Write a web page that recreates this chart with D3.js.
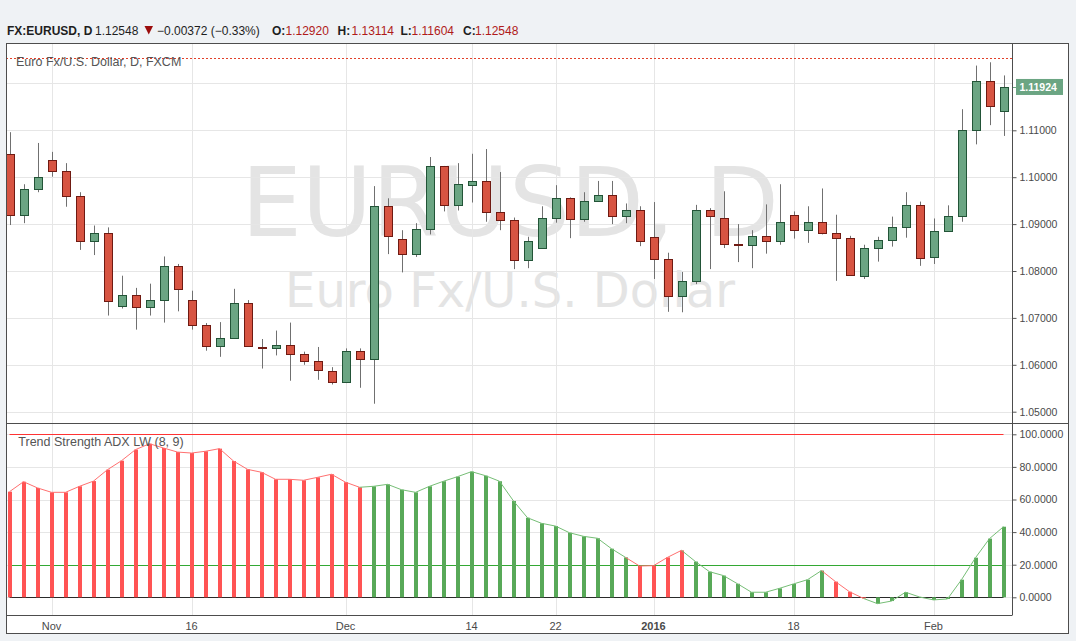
<!DOCTYPE html>
<html><head><meta charset="utf-8">
<script src="https://cdn.jsdelivr.net/npm/d3@7/dist/d3.min.js"></script>
<style>
html,body{margin:0;padding:0;background:#eff2f5;}
svg{display:block;}
text{font-family:"Liberation Sans",Arial,sans-serif;}
</style></head><body>
<svg id="c" width="1076" height="641"></svg>
<script>
// ---------- DATA ----------
const dates = ["2015-10-28","2015-10-29","2015-10-30","2015-11-02","2015-11-03","2015-11-04","2015-11-05","2015-11-06","2015-11-09","2015-11-10",
"2015-11-11","2015-11-12","2015-11-13","2015-11-16","2015-11-17","2015-11-18","2015-11-19","2015-11-20","2015-11-23","2015-11-24",
"2015-11-25","2015-11-26","2015-11-27","2015-11-30","2015-12-01","2015-12-02","2015-12-03","2015-12-04","2015-12-07","2015-12-08",
"2015-12-09","2015-12-10","2015-12-11","2015-12-14","2015-12-15","2015-12-16","2015-12-17","2015-12-18","2015-12-21","2015-12-22",
"2015-12-23","2015-12-24","2015-12-28","2015-12-29","2015-12-30","2015-12-31","2016-01-04","2016-01-05","2016-01-06","2016-01-07",
"2016-01-08","2016-01-11","2016-01-12","2016-01-13","2016-01-14","2016-01-15","2016-01-18","2016-01-19","2016-01-20","2016-01-21",
"2016-01-22","2016-01-25","2016-01-26","2016-01-27","2016-01-28","2016-01-29","2016-02-01","2016-02-02","2016-02-03","2016-02-04",
"2016-02-05","2016-02-08"];
const open  = [1.1049,1.0920,1.0974,1.1036,1.1013,1.0959,1.0863,1.0882,1.0725,1.0749,
1.0723,1.0738,1.0811,1.0738,1.0685,1.0640,1.0657,1.0732,1.0637,1.0635,
1.0642,1.0623,1.0608,1.0586,1.0563,1.0629,1.0612,1.0938,1.0869,1.0837,
1.0890,1.1023,1.0940,1.0983,1.0991,1.0925,1.0908,1.0824,1.0850,1.0914,
1.0955,1.0910,1.0950,1.0963,1.0918,1.0931,1.0873,1.0826,1.0747,1.0779,
1.0929,1.0914,1.0858,1.0856,1.0875,1.0863,1.0920,1.0888,1.0905,1.0882,
1.0871,1.0790,1.0848,1.0867,1.0893,1.0940,1.0830,1.0886,1.0918,1.1100,
1.1205,1.1141];
const high  = [1.1096,1.0985,1.1073,1.1054,1.1030,1.0968,1.0897,1.0893,1.0790,1.0764,
1.0773,1.0831,1.0815,1.0758,1.0689,1.0691,1.0762,1.0738,1.0655,1.0673,
1.0690,1.0628,1.0638,1.0595,1.0635,1.0635,1.0981,1.0955,1.0887,1.0902,
1.1043,1.1024,1.1030,1.1050,1.1060,1.1011,1.0914,1.0873,1.0938,1.0983,
1.0957,1.0968,1.0992,1.0992,1.0944,1.0938,1.0947,1.0839,1.0798,1.0941,
1.0934,1.0970,1.0900,1.0887,1.0942,1.0985,1.0927,1.0938,1.0976,1.0920,
1.0875,1.0856,1.0873,1.0916,1.0968,1.0948,1.0912,1.0940,1.1145,1.1238,
1.1245,1.1217];
const low   = [1.0898,1.0902,1.0968,1.1001,1.0937,1.0845,1.0834,1.0705,1.0720,1.0675,
1.0705,1.0690,1.0714,1.0675,1.0630,1.0617,1.0655,1.0640,1.0592,1.0620,
1.0566,1.0600,1.0568,1.0558,1.0561,1.0551,1.0517,1.0836,1.0797,1.0830,
1.0878,1.0927,1.0929,1.0946,1.0905,1.0887,1.0804,1.0806,1.0847,1.0903,
1.0870,1.0905,1.0950,1.0900,1.0902,1.0853,1.0783,1.0713,1.0712,1.0772,
1.0804,1.0849,1.0819,1.0806,1.0837,1.0856,1.0869,1.0860,1.0878,1.0779,
1.0790,1.0783,1.0820,1.0852,1.0871,1.0811,1.0815,1.0884,1.0905,1.1070,
1.1111,1.1088];
const close = [1.0920,1.0974,1.1000,1.1013,1.0959,1.0863,1.0882,1.0735,1.0749,1.0723,
1.0738,1.0811,1.0762,1.0685,1.0640,1.0657,1.0732,1.0641,1.0636,1.0642,
1.0623,1.0608,1.0588,1.0563,1.0629,1.0612,1.0938,1.0875,1.0837,1.0890,
1.1023,1.0940,1.0985,1.0991,1.0925,1.0908,1.0824,1.0865,1.0914,1.0955,
1.0910,1.0950,1.0963,1.0918,1.0931,1.0863,1.0826,1.0747,1.0779,1.0929,
1.0918,1.0858,1.0857,1.0875,1.0863,1.0905,1.0888,1.0905,1.0882,1.0871,
1.0792,1.0848,1.0867,1.0893,1.0940,1.0828,1.0886,1.0918,1.1101,1.1205,
1.1152,1.1192];
const adx = [64.8,70.9,67.1,64.4,64.4,68.1,71.3,78.3,83.8,90.6,
94.2,91.6,89.1,88.5,89.6,91.2,83.6,78.5,76.7,72.4,
72.4,71.8,73.6,75.5,70.6,67.5,68.1,69.3,66.0,64.4,
68.1,71.2,74.0,77.1,74.6,71.2,59.1,48.8,45.4,43.7,
39.6,37.4,36.2,29.8,24.5,19.2,19.4,24.5,28.8,21.9,
15.7,13.3,8.3,3.1,3.1,5.5,8.2,10.8,16.4,9.6,
3.4,-0.7,-3.9,-2.3,3.1,0.2,-1.6,-1.0,10.8,24.3,
36.0,43.3];
const adxState = ["dn","dn","dn","dn","dn","dn","dn","dn","dn","dn",
"dn","dn","dn","dn","dn","dn","dn","dn","dn","dn",
"dn","dn","dn","dn","dn","dn","up","up","up","up",
"up","up","up","up","up","up","up","up","up","up",
"up","up","up","up","up","dn","dn","dn","dn","up",
"up","up","up","up","up","up","up","up","up","dn",
"dn","dn","up","up","up","up","up","up","up","up",
"up","up"];
const priceTicks = [1.05,1.06,1.07,1.08,1.09,1.10,1.11,1.12];
const adxTicks = [0,20,40,60,80,100];
const adxUpperLevel = 100;
const adxLowerLevel = 20;
const timeTickDates = ["2015-11-02","2015-11-16","2015-12-01","2015-12-14","2015-12-22","2016-01-04","2016-01-18","2016-02-01"];
const timeTickLabels = ["Nov","16","Dec","14","22","2016","18","Feb"];
const lastPrice = 1.12548;
const lastBarClose = 1.11924;
const headerParts = [
  {t:"FX:EURUSD, D", x:7, w:"bold", c:"#1e1e1e"},
  {t:"1.12548", x:95, w:"normal", c:"#1e1e1e"},
  {t:"\u22120.00372 (\u22120.33%)", x:157, w:"normal", c:"#1e1e1e"},
  {t:"O:", x:272, w:"bold", c:"#1e1e1e"},
  {t:"1.12920", x:285.5, w:"normal", c:"#b01a1a"},
  {t:"H:", x:337.5, w:"bold", c:"#1e1e1e"},
  {t:"1.13114", x:351.5, w:"normal", c:"#b01a1a"},
  {t:"L:", x:400.5, w:"bold", c:"#1e1e1e"},
  {t:"1.11604", x:411.5, w:"normal", c:"#b01a1a"},
  {t:"C:", x:463, w:"bold", c:"#1e1e1e"},
  {t:"1.12548", x:475, w:"normal", c:"#b01a1a"}
];

// ---------- LAYOUT ----------
const L = 6, R = 1069, AX = 1012.5, TOP = 43, MID = 423, LOWB = 615, BOT = 634;
const svg = d3.select("#c");

const x = d3.scalePoint().domain(dates).range([9.5, 1003.5]);
const y = d3.scaleLinear().domain([1.05, 1.11]).range([411.7, 130.3]);
const ya = d3.scaleLinear().domain([0, 100]).range([597.3, 434.3]);

// chart background
svg.append("rect").attr("x",L).attr("y",TOP).attr("width",R-L).attr("height",BOT-TOP).attr("fill","#fff");

const defs = svg.append("defs");
defs.append("clipPath").attr("id","mainClip").append("rect").attr("x",L).attr("y",TOP).attr("width",AX-L).attr("height",MID-TOP);
defs.append("clipPath").attr("id","lowClip").append("rect").attr("x",L).attr("y",MID).attr("width",AX-L).attr("height",LOWB-MID);

const mainG = svg.append("g").attr("clip-path","url(#mainClip)");
const lowG = svg.append("g").attr("clip-path","url(#lowClip)");

// watermark
mainG.append("text").attr("x",510).attr("y",236).attr("text-anchor","middle")
  .style("font-family","'DejaVu Sans',sans-serif").style("font-size","96px").attr("fill","#e4e4e4").text("EURUSD, D");
mainG.append("text").attr("x",510).attr("y",306.5).attr("text-anchor","middle")
  .style("font-family","'DejaVu Sans',sans-serif").style("font-size","48px").attr("fill","#e4e4e4").text("Euro Fx/U.S. Dollar");

// vertical grid
const gx = d => Math.round(x(d)) + 0.5;
[mainG, lowG].forEach(g => {
  g.selectAll(null).data(timeTickDates).enter().append("line")
    .attr("x1",gx).attr("x2",gx).attr("y1",TOP).attr("y2",LOWB)
    .attr("stroke","#e6e6e6").attr("stroke-width",1);
});
// horizontal grid main
mainG.selectAll(null).data(priceTicks).enter().append("line")
  .attr("x1",L).attr("x2",AX).attr("y1",d=>Math.round(y(d))+0.5).attr("y2",d=>Math.round(y(d))+0.5)
  .attr("stroke","#e6e6e6");
// horizontal grid lower
lowG.selectAll(null).data(adxTicks).enter().append("line")
  .attr("x1",L).attr("x2",AX).attr("y1",d=>Math.round(ya(d))+0.5).attr("y2",d=>Math.round(ya(d))+0.5)
  .attr("stroke","#e6e6e6");

// last price dotted line
mainG.append("line").attr("x1",L).attr("x2",AX).attr("y1",Math.round(y(lastPrice))+0.5).attr("y2",Math.round(y(lastPrice))+0.5)
  .attr("stroke","#e2402a").attr("stroke-dasharray","2,2");

// candles
const idx = d3.range(dates.length);
const cx = i => Math.round(x(dates[i])) + 0.5;
mainG.selectAll(".wick").data(idx).enter().append("line")
  .attr("x1",cx).attr("x2",cx)
  .attr("y1",i=>y(high[i])).attr("y2",i=>y(low[i]))
  .attr("stroke","#707070").attr("stroke-width",1);
mainG.selectAll(".body").data(idx).enter().append("rect")
  .attr("x",i=>cx(i)-4).attr("width",8)
  .attr("y",i=>Math.round(y(Math.max(open[i],close[i])))+0.5)
  .attr("height",i=>Math.max(1, Math.round(y(Math.min(open[i],close[i]))) - Math.round(y(Math.max(open[i],close[i])))))
  .attr("fill",i=>close[i]>=open[i]?"#6ba583":"#d75442")
  .attr("stroke",i=>close[i]>=open[i]?"#225437":"#6f1a12")
  .attr("stroke-width",1);

// lower pane: level lines
const x0 = x(dates[0]), x1 = x(dates[dates.length-1]);
function levelLine(v, color){
  const yy = Math.round(ya(v));
  lowG.append("rect").attr("x",x0).attr("width",x1-x0).attr("y",yy).attr("height",1)
    .attr("fill",color);
}
levelLine(adxUpperLevel, "#ff3333");
levelLine(adxLowerLevel, "#33a833");
levelLine(0, "#2a2a2a");

// ADX histogram
lowG.selectAll(".abar").data(idx).enter().append("rect")
  .attr("x",i=>Math.round(x(dates[i]))-2).attr("width",4)
  .attr("y",i=>Math.min(ya(adx[i]), ya(0)))
  .attr("height",i=>Math.abs(ya(adx[i])-ya(0)))
  .attr("fill",i=>adxState[i]==="up"?"#58a958":"#ff5454");
// ADX line, segments coloured by end point
lowG.selectAll(".aseg").data(idx.slice(1)).enter().append("line")
  .attr("x1",i=>x(dates[i-1])).attr("y1",i=>ya(adx[i-1]))
  .attr("x2",i=>x(dates[i])).attr("y2",i=>ya(adx[i]))
  .attr("stroke",i=>adxState[i]==="up"?"#76be76":"#ff7070").attr("stroke-width",1);

// legends
svg.append("text").attr("x",16).attr("y",65.5).style("font-size","12.5px").attr("fill","#555").text("Euro Fx/U.S. Dollar, D, FXCM");
svg.append("text").attr("x",18.3).attr("y",445.5).style("font-size","12.5px").attr("fill","#555").text("Trend Strength ADX LW (8, 9)");

// price axis
const pAxis = d3.axisRight(y).tickValues(priceTicks.filter(d=>d<1.115)).tickFormat(d3.format(".5f")).tickSize(4).tickPadding(3);
const pg = svg.append("g").attr("transform",`translate(${AX},0)`).call(pAxis);
const aAxis = d3.axisRight(ya).tickValues(adxTicks).tickFormat(d3.format(".4f")).tickSize(4).tickPadding(3);
const ag = svg.append("g").attr("transform",`translate(${AX},0)`).call(aAxis);
[pg, ag].forEach(g => {
  g.select(".domain").remove();
  g.selectAll(".tick line").attr("stroke","#555");
  g.selectAll(".tick text").attr("fill","#4a4a4a").style("font-size","10.5px").style("font-family","'Liberation Sans',Arial,sans-serif");
});

// last bar close label
const ly = y(lastBarClose);
svg.append("line").attr("x1",AX).attr("x2",AX+4).attr("y1",Math.round(ly)+0.5).attr("y2",Math.round(ly)+0.5).attr("stroke","#6ba583");
svg.append("rect").attr("x",1016).attr("y",ly-8).attr("width",47).attr("height",16).attr("fill","#6ba583");
svg.append("text").attr("x",1019.5).attr("y",ly).attr("dy","0.35em").style("font-size","10.5px").style("font-weight","bold")
  .attr("fill","#fff").text(d3.format(".5f")(lastBarClose));

// time axis labels
svg.selectAll(".tl").data(timeTickDates).enter().append("text")
  .attr("x",d=>x(d)).attr("y",630).attr("text-anchor","middle")
  .style("font-size","11px").style("font-weight",(d,i)=>timeTickLabels[i]==="2016"?"bold":"normal")
  .attr("fill","#4a4a4a").text((d,i)=>timeTickLabels[i]);

// frame lines
const fr = svg.append("g").attr("stroke","#4d4d4d").attr("stroke-width",1).attr("fill","none");
fr.append("rect").attr("x",L+0.5).attr("y",TOP+0.5).attr("width",R-L-1).attr("height",BOT-TOP-1);
fr.append("line").attr("x1",L).attr("x2",R).attr("y1",MID+0.5).attr("y2",MID+0.5);
fr.append("line").attr("x1",L).attr("x2",AX).attr("y1",LOWB+0.5).attr("y2",LOWB+0.5);
fr.append("line").attr("x1",AX).attr("x2",AX).attr("y1",TOP).attr("y2",LOWB);

// header
const hdr = svg.append("g");
hdr.selectAll("text").data(headerParts).enter().append("text")
  .attr("x",d=>d.x).attr("y",34.5).style("font-size","12px").style("font-weight",d=>d.w).attr("fill",d=>d.c).text(d=>d.t);
hdr.append("path").attr("d","M144.5,26 L153,26 L148.75,34.5 Z").attr("fill","#9b0d0d");
</script>
</body></html>
